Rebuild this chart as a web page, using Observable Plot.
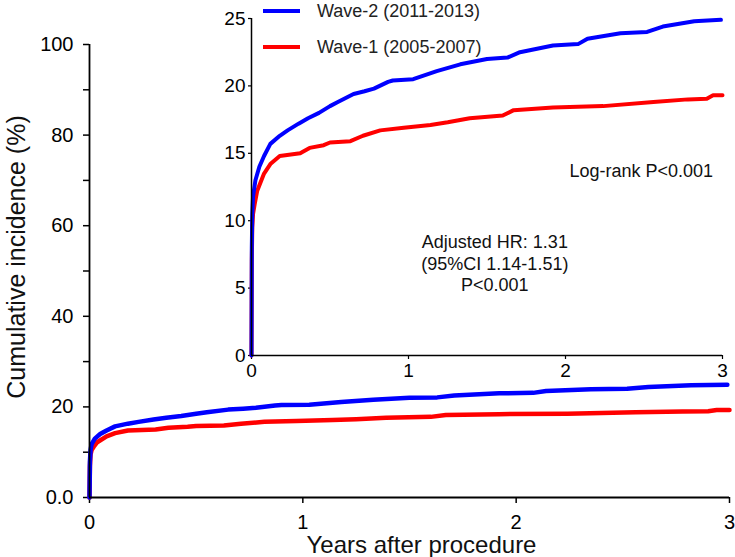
<!DOCTYPE html>
<html><head><meta charset="utf-8">
<script src="https://cdn.jsdelivr.net/npm/d3@7"></script>
<script src="https://cdn.jsdelivr.net/npm/@observablehq/plot@0.6"></script>
<style>
body{margin:0;background:#fff;}
#wrap{position:relative;width:735px;height:557px;overflow:hidden;background:#fff;font-family:Arial,"Liberation Sans",sans-serif;}
#wrap svg{position:absolute;overflow:visible;}
.leg{position:absolute;font-size:18px;color:#222;white-space:nowrap;line-height:1;}
.sw{position:absolute;height:4px;width:37px;}
</style></head><body><div id="wrap"></div>
<script>
// Series names (legend order)
const seriesNames = ["Wave-2 (2011-2013)", "Wave-1 (2005-2007)"];
const seriesColors = ["#0000ff", "#ff0000"];

// Wave-2 (2011-2013): years after procedure, cumulative incidence (%)
const wave2Years = [0, 0.002, 0.005, 0.01, 0.025, 0.05, 0.08, 0.12, 0.18, 0.23, 0.3, 0.36, 0.43, 0.5, 0.55, 0.65, 0.72, 0.78, 0.87, 0.9, 1.03, 1.18, 1.33, 1.5, 1.63, 1.71, 1.92, 2.08, 2.14, 2.35, 2.52, 2.62, 2.82, 2.99];
const wave2Incidence = [0, 8, 10.5, 11.8, 13, 14, 14.8, 15.7, 16.3, 16.7, 17.2, 17.6, 18.0, 18.5, 18.8, 19.4, 19.6, 19.8, 20.3, 20.4, 20.5, 21.1, 21.6, 22.0, 22.1, 22.5, 23.0, 23.1, 23.5, 23.9, 24.0, 24.4, 24.8, 24.9];

// Wave-1 (2005-2007)
const wave1Years = [0, 0.002, 0.005, 0.01, 0.02, 0.036, 0.08, 0.12, 0.18, 0.31, 0.37, 0.46, 0.5, 0.63, 0.71, 0.82, 0.97, 1.14, 1.25, 1.39, 1.6, 1.67, 1.92, 2.24, 2.56, 2.78, 2.9, 2.94, 3.0];
const wave1Incidence = [0, 7, 9.5, 10.5, 11.2, 12.2, 13.5, 14.2, 14.8, 15.0, 15.4, 15.6, 15.8, 15.9, 16.3, 16.7, 16.9, 17.1, 17.3, 17.6, 17.8, 18.2, 18.4, 18.5, 18.8, 19.0, 19.05, 19.3, 19.3];

// Tick values / labels
const mainYTicks = [0, 10, 20, 30, 40, 50, 60, 70, 80, 90, 100];
const mainYLabels = {0: "0.0", 20: "20", 40: "40", 60: "60", 80: "80", 100: "100"};
const xTicks = [0, 1, 2, 3];
const insetYTicks = [0, 5, 10, 15, 20, 25];

const xLabel = "Years after procedure";
const yLabel = "Cumulative incidence (%)";
const logRankText = "Log-rank P<0.001";
const hrLines = ["Adjusted HR: 1.31", "(95%CI 1.14-1.51)", "P<0.001"];

const data = [
  ...wave1Years.map((t, i) => ({t, v: wave1Incidence[i], wave: seriesNames[1]})),
  ...wave2Years.map((t, i) => ({t, v: wave2Incidence[i], wave: seriesNames[0]}))
];

const font = "Arial, 'Liberation Sans', sans-serif";

const main = Plot.plot({
  width: 735, height: 557,
  marginLeft: 89, marginRight: 6, marginTop: 44, marginBottom: 60,
  style: {fontFamily: font, color: "#000", background: "transparent", overflow: "visible"},
  x: {domain: [0, 3]},
  y: {domain: [0, 100]},
  color: {domain: seriesNames, range: seriesColors},
  marks: [
    Plot.axisY(mainYTicks, {tickSize: 6, tickPadding: 10, strokeWidth: 1.5, fontSize: 20, label: null,
      tickFormat: d => mainYLabels[d] ?? ""}),
    Plot.axisX(xTicks, {tickSize: 6, tickPadding: 11, strokeWidth: 1.5, fontSize: 20, label: null,
      tickFormat: d => String(d)}),
    Plot.line(data, {x: "t", y: "v", z: "wave", stroke: "wave", strokeWidth: 4.5}),
    Plot.ruleX([0], {strokeWidth: 1.8}),
    Plot.ruleY([0], {strokeWidth: 1.8}),
    Plot.text([yLabel], {frameAnchor: "left", textAnchor: "middle", lineAnchor: "middle", rotate: -90, dx: -73, dy: -14, fontSize: 25, fill: "#111"}),
    Plot.text([xLabel], {frameAnchor: "bottom", textAnchor: "middle", lineAnchor: "middle", dx: 12, dy: 48, fontSize: 24, fill: "#111"})
  ]
});
main.style.left = "0px"; main.style.top = "0px";

const inset = Plot.plot({
  width: 530, height: 385,
  marginLeft: 51, marginRight: 8, marginTop: 18, marginBottom: 30,
  style: {fontFamily: font, color: "#000", background: "transparent", overflow: "visible"},
  x: {domain: [0, 3]},
  y: {domain: [0, 25]},
  color: {domain: seriesNames, range: seriesColors},
  marks: [
    Plot.axisY(insetYTicks, {tickSize: 3, tickPadding: 3, strokeWidth: 1.2, fontSize: 19, label: null}),
    Plot.axisX(xTicks, {tickSize: 4, tickPadding: 4, strokeWidth: 1.2, fontSize: 19, label: null,
      tickFormat: d => String(d)}),
    Plot.line(data, {x: "t", y: "v", z: "wave", stroke: "wave", strokeWidth: 4}),
    Plot.ruleX([0], {strokeWidth: 1.5}),
    Plot.ruleY([0], {strokeWidth: 1.5}),
    Plot.text([logRankText], {x: 2.94, y: 13.7, textAnchor: "end", fontSize: 18, fill: "#111"}),
    Plot.text(hrLines, {x: 1.55, y: (d, i) => 8.4 - i * 1.6, fontSize: 18, fill: "#111"})
  ]
});
inset.style.left = "200px"; inset.style.top = "0px";

const wrap = document.getElementById("wrap");
wrap.appendChild(main);
wrap.appendChild(inset);

// Legend (HTML)
const legendTops = [11, 47];
seriesNames.forEach((name, i) => {
  const sw = document.createElement("div");
  sw.className = "sw";
  sw.style.background = seriesColors[i];
  sw.style.left = "263px";
  sw.style.top = (legendTops[i] - 2) + "px";
  wrap.appendChild(sw);
  const lab = document.createElement("div");
  lab.className = "leg";
  lab.textContent = name;
  lab.style.left = "317px";
  lab.style.top = (legendTops[i] - 9) + "px";
  wrap.appendChild(lab);
});
</script>
</body></html>
